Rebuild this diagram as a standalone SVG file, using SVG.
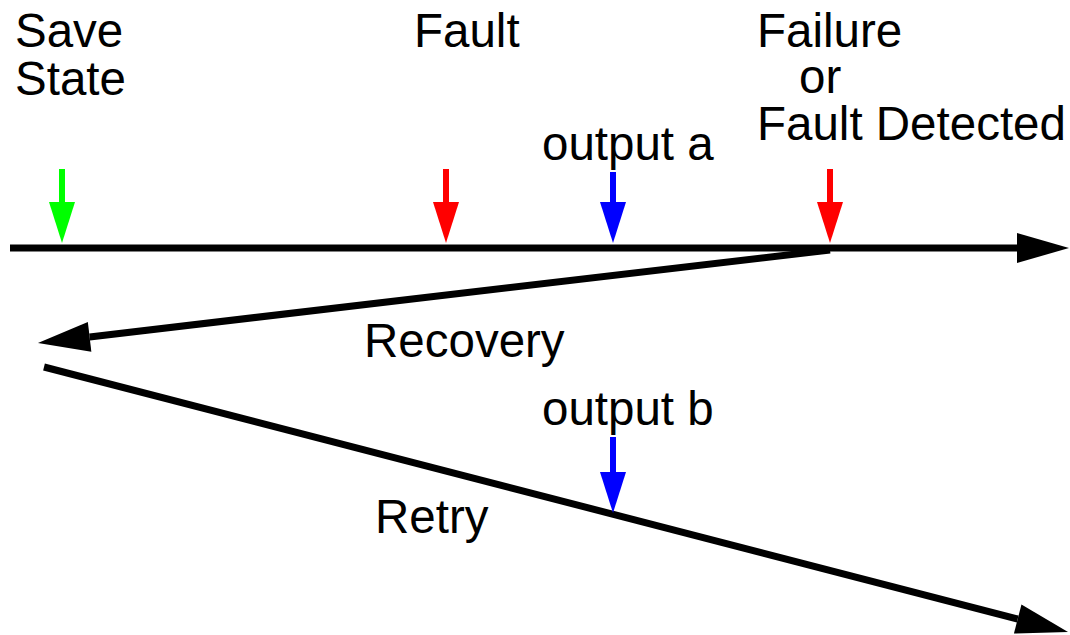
<svg xmlns="http://www.w3.org/2000/svg" width="1070" height="635" viewBox="0 0 1070 635">
  <style>
    .lbl { font-family: "Liberation Sans", Arial, sans-serif; font-size: 47.5px; fill: #000; }
    .main { stroke: #000; stroke-width: 7; fill: none; }
    .tick { stroke-width: 6; fill: none; }
  </style>
  <defs>
    <marker id="bigHead" markerUnits="userSpaceOnUse" orient="auto" refX="0" refY="0" markerWidth="60" markerHeight="40" viewBox="0 -20 60 40" overflow="visible">
      <path d="M0,-15 L52,0 L0,15 z" fill="#000"/>
    </marker>
    <marker id="greenHead" markerUnits="userSpaceOnUse" orient="auto" refX="0" refY="0" markerWidth="50" markerHeight="30" viewBox="0 -15 50 30" overflow="visible">
      <path d="M0,-13 L41,0 L0,13 z" fill="#00ff00"/>
    </marker>
    <marker id="redHead" markerUnits="userSpaceOnUse" orient="auto" refX="0" refY="0" markerWidth="50" markerHeight="30" viewBox="0 -15 50 30" overflow="visible">
      <path d="M0,-13 L41,0 L0,13 z" fill="#ff0000"/>
    </marker>
    <marker id="blueHead" markerUnits="userSpaceOnUse" orient="auto" refX="0" refY="0" markerWidth="50" markerHeight="30" viewBox="0 -15 50 30" overflow="visible">
      <path d="M0,-13 L41,0 L0,13 z" fill="#0000ff"/>
    </marker>
  </defs>
  <rect width="1070" height="635" fill="#fff"/>

  <g id="connectors">
    <line id="timeline" class="main" x1="10" y1="248" x2="1017" y2="248" marker-end="url(#bigHead)"/>
    <line id="recovery-line" class="main" x1="830" y1="250" x2="89.6" y2="336.9" marker-end="url(#bigHead)"/>
    <line id="retry-line" class="main" x1="44" y1="367" x2="1017.7" y2="619" marker-end="url(#bigHead)"/>
  </g>

  <g id="save-state">
    <line class="tick" stroke="#00ff00" x1="62" y1="169" x2="62" y2="202" marker-end="url(#greenHead)"/>
    <text class="lbl" x="15" y="47">Save</text>
    <text class="lbl" x="15" y="95">State</text>
  </g>

  <g id="fault">
    <line class="tick" stroke="#ff0000" x1="446" y1="169" x2="446" y2="202" marker-end="url(#redHead)"/>
    <text class="lbl" x="414" y="47">Fault</text>
  </g>

  <g id="output-a">
    <line class="tick" stroke="#0000ff" x1="613" y1="172" x2="613" y2="202" marker-end="url(#blueHead)"/>
    <text class="lbl" x="542" y="160">output a</text>
  </g>

  <g id="failure-detected">
    <line class="tick" stroke="#ff0000" x1="830" y1="169" x2="830" y2="202" marker-end="url(#redHead)"/>
    <text class="lbl" x="757" y="47">Failure</text>
    <text class="lbl" x="799" y="93">or</text>
    <text class="lbl" x="757" y="140">Fault Detected</text>
  </g>

  <g id="recovery">
    <text class="lbl" x="364" y="357">Recovery</text>
  </g>

  <g id="output-b">
    <line class="tick" stroke="#0000ff" x1="613" y1="437" x2="613" y2="472" marker-end="url(#blueHead)"/>
    <text class="lbl" x="542" y="425">output b</text>
  </g>

  <g id="retry">
    <text class="lbl" x="375" y="533">Retry</text>
  </g>
</svg>
